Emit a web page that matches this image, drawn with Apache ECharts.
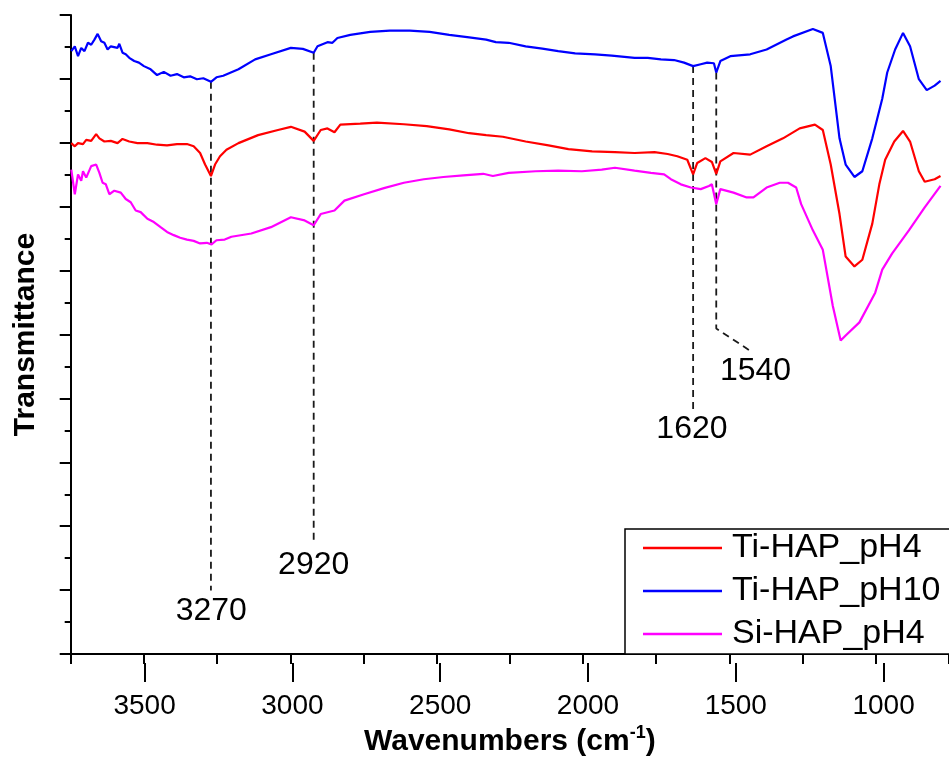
<!DOCTYPE html>
<html>
<head>
<meta charset="utf-8">
<script src="https://cdn.jsdelivr.net/npm/echarts@6/dist/echarts.min.js"></script>
<style>html,body{margin:0;padding:0;background:#fff;}#c{width:949px;height:762px;}</style>
</head>
<body>
<div id="c"></div>
<script>
// ---- data ----
const seriesNames = ['Ti-HAP_pH4', 'Ti-HAP_pH10', 'Si-HAP_pH4'];
const seriesColors = ['#ff0000', '#0000ff', '#ff00ff'];

const redW = [3748,3736,3725,3708,3697,3680,3663,3652,3635,3613,3590,3573,3550,3522,3488,3455,3421,3387,3353,3330,3308,3291,3271,3257,3240,3218,3177,3110,3042,2998,2951,2920,2896,2873,2849,2829,2761,2704,2612,2534,2457,2389,2331,2274,2196,2118,2050,1969,1891,1824,1756,1711,1678,1644,1624,1610,1582,1560,1545,1531,1486,1429,1373,1317,1260,1208,1181,1154,1124,1103,1073,1046,1012,988,968,937,907,883,853,833,799,779];
const redT = [15.99,15.89,15.99,15.96,16.09,16.06,16.27,16.14,16.04,16.06,15.99,16.12,16.04,15.99,15.99,15.94,15.92,15.96,15.96,15.89,15.68,15.32,14.96,15.32,15.58,15.78,15.99,16.24,16.40,16.50,16.35,16.06,16.40,16.45,16.33,16.57,16.60,16.63,16.58,16.52,16.42,16.30,16.24,16.19,16.04,15.92,15.80,15.73,15.71,15.68,15.71,15.65,15.58,15.47,15.01,15.37,15.52,15.40,15.03,15.42,15.68,15.63,15.89,16.14,16.45,16.57,16.40,15.32,13.77,12.44,12.13,12.34,13.47,14.70,15.47,16.04,16.37,16.04,15.11,14.78,14.86,14.96];

const blueW = [3748,3736,3725,3714,3703,3691,3680,3669,3658,3646,3635,3624,3613,3590,3584,3573,3562,3550,3533,3517,3500,3477,3455,3432,3409,3387,3364,3342,3319,3297,3271,3252,3229,3177,3120,3066,2998,2957,2920,2907,2873,2856,2839,2795,2727,2660,2592,2524,2457,2389,2331,2298,2254,2196,2139,2085,2027,1959,1902,1824,1779,1734,1689,1655,1624,1598,1576,1553,1545,1531,1497,1429,1373,1305,1283,1215,1181,1154,1124,1103,1073,1046,1012,978,961,934,907,883,853,826,799,779];
const blueT = [18.87,19.02,18.71,18.97,18.87,19.13,19.07,19.23,19.41,19.18,19.13,18.92,19.02,18.97,19.10,18.82,18.77,18.66,18.56,18.51,18.40,18.30,18.12,18.22,18.10,18.15,18.05,18.08,17.99,18.02,17.91,18.05,18.10,18.30,18.61,18.77,18.97,18.94,18.82,19.02,19.15,19.13,19.28,19.38,19.47,19.51,19.51,19.47,19.38,19.30,19.23,19.15,19.13,19.02,18.95,18.87,18.80,18.77,18.73,18.66,18.66,18.61,18.59,18.51,18.40,18.46,18.51,18.49,18.20,18.56,18.71,18.77,18.92,19.23,19.33,19.56,19.44,18.40,16.14,15.32,14.93,15.11,16.14,17.38,18.20,18.92,19.44,19.02,17.99,17.65,17.79,17.94];

const magW = [3748,3736,3725,3714,3708,3697,3680,3663,3652,3641,3630,3618,3601,3579,3562,3545,3528,3511,3488,3466,3443,3421,3398,3376,3353,3330,3308,3285,3269,3252,3224,3201,3133,3066,2998,2951,2920,2896,2849,2815,2748,2680,2612,2544,2477,2409,2341,2308,2254,2162,2085,2004,1936,1891,1824,1768,1723,1700,1666,1632,1598,1570,1560,1545,1531,1486,1441,1418,1373,1328,1300,1272,1255,1215,1181,1147,1120,1103,1056,1002,978,944,887,833,779];
const magT = [15.16,14.39,15.01,14.81,15.11,14.91,15.27,15.32,15.06,14.75,14.70,14.39,14.50,14.44,14.24,14.14,13.88,13.83,13.62,13.52,13.36,13.21,13.11,13.03,12.97,12.93,12.85,12.87,12.82,12.95,12.97,13.06,13.16,13.36,13.67,13.57,13.42,13.77,13.88,14.19,14.39,14.58,14.75,14.86,14.93,14.98,15.03,14.96,15.06,15.11,15.13,15.11,15.16,15.22,15.13,15.06,15.01,14.86,14.70,14.60,14.55,14.65,14.70,14.08,14.55,14.44,14.29,14.29,14.60,14.75,14.75,14.60,14.08,13.26,12.65,10.90,9.81,9.97,10.38,11.31,12.03,12.54,13.26,13.98,14.65];

// peak guide lines (dashed) and their labels
const guideW = [3271, 2920, 1624, 1545];
const guideTop = [17.91, 18.82, 18.40, 18.20];
const guideBottom = [1.99, 3.55, 7.59, 10.19];
const leaderEnd = [1421, 9.44];   // diagonal leader of the 1540 label
const labelText = ['3270', '2920', '1620', '1540'];
const labelW = [3270, 2920, 1628, 1411];
const labelT = [1.33, 2.79, 7.04, 8.84];

const xTickLabels = [1000, 1500, 2000, 2500, 3000, 3500];

// ---- layout ----
const FONT = 'Arial, "Liberation Sans", sans-serif';
const PX = 0.2956;      // px per cm-1
const LEFT = 70.7, TOP = 15, HEIGHT = 648;
const X_MAX = 3750, X_MIN = 750;
const MAJ_MIN = xTickLabels[0], MAJ_MAX = xTickLabels[xTickLabels.length - 1];

function zip(a, b) { return a.map((v, i) => [v, b[i]]); }

const curves = [zip(redW, redT), zip(blueW, blueT), zip(magW, magT)];

const series = curves.map((d, i) => ({
  name: seriesNames[i], type: 'line', xAxisIndex: 0, yAxisIndex: 0,
  data: d, showSymbol: false, symbol: 'none', smooth: false,
  lineStyle: { color: seriesColors[i], width: 2.2 }, itemStyle: { color: seriesColors[i] },
  z: 3, animation: false
}));

guideW.forEach((w, i) => {
  const pts = [[w, guideTop[i]], [w, guideBottom[i]]];
  if (labelText[i] === '1540') pts.push(leaderEnd);
  series.push({
    type: 'line', xAxisIndex: 0, yAxisIndex: 0, data: pts, symbol: 'none', silent: true,
    lineStyle: { color: '#1a1a1a', width: 1.8, type: [7, 5] }, z: 2, animation: false
  });
});

series.push({
  type: 'scatter', xAxisIndex: 0, yAxisIndex: 0, symbolSize: 0, silent: true, animation: false,
  itemStyle: { opacity: 1, color: '#000' },
  data: labelText.map((t, i) => ({ name: t, value: [labelW[i], labelT[i]] })),
  label: { show: true, position: 'inside', formatter: p => p.name, color: '#000', opacity: 1,
    fontSize: 32, fontFamily: FONT, textBorderWidth: 0 }
});

const chart = echarts.init(document.getElementById('c'), null, { renderer: 'canvas' });
chart.setOption({
  backgroundColor: '#fff',
  animation: false,
  grid: [
    { left: LEFT, top: TOP, width: (X_MAX - X_MIN) * PX, height: HEIGHT },
    { left: LEFT + (X_MAX - MAJ_MAX) * PX, top: TOP, width: (MAJ_MAX - MAJ_MIN) * PX, height: HEIGHT }
  ],
  xAxis: [
    {
      type: 'value', gridIndex: 0, inverse: true, min: X_MIN, max: X_MAX, interval: 250,
      axisLine: { show: true, onZero: false, lineStyle: { color: '#000', width: 2 } },
      axisTick: { show: true, length: 10, lineStyle: { color: '#000', width: 2 } },
      axisLabel: { show: false }, splitLine: { show: false },
      name: '{b|Wavenumbers (cm}{s|-1}{b|)}', nameLocation: 'middle', nameGap: 70,
      nameTextStyle: {
        rich: {
          b: { fontSize: 30, fontWeight: 'bold', fontFamily: FONT, color: '#000', lineHeight: 36 },
          s: { fontSize: 18, fontWeight: 'bold', fontFamily: FONT, color: '#000', verticalAlign: 'top', lineHeight: 20 }
        }
      }
    },
    {
      type: 'value', gridIndex: 1, inverse: true, min: MAJ_MIN, max: MAJ_MAX, interval: 500,
      axisLine: { show: false },
      axisTick: { show: true, length: 19, lineStyle: { color: '#000', width: 2 } },
      axisLabel: { show: true, fontSize: 28, fontFamily: FONT, color: '#000', margin: 29,
        formatter: v => (xTickLabels.indexOf(v) >= 0 ? String(v) : '') },
      splitLine: { show: false }
    }
  ],
  yAxis: [
    {
      type: 'value', gridIndex: 0, min: 0, max: 20, interval: 2,
      axisLine: { show: true, onZero: false, lineStyle: { color: '#000', width: 2 } },
      axisTick: { show: true, length: 11, lineStyle: { color: '#000', width: 2 } },
      minorTick: { show: true, splitNumber: 2, length: 6, lineStyle: { color: '#000', width: 2 } },
      axisLabel: { show: false }, splitLine: { show: false }, minorSplitLine: { show: false },
      name: 'Transmittance', nameLocation: 'middle', nameRotate: 90, nameGap: 30,
      nameTextStyle: { fontSize: 30, fontWeight: 'bold', fontFamily: FONT, color: '#000' }
    },
    { type: 'value', gridIndex: 1, min: 0, max: 20, show: false }
  ],
  legend: {
    orient: 'vertical', left: 625, top: 529,
    data: seriesNames, icon: 'rect', itemWidth: 79, itemHeight: 2.5, itemGap: 9,
    textStyle: { fontSize: 34, fontFamily: FONT, color: '#000', padding: [0, 0, 0, 5] },
    borderColor: '#000', borderWidth: 1.5, borderRadius: 0, backgroundColor: '#fff',
    padding: [2, 30, 3, 18], selectedMode: false
  },
  series: series
});
</script>
</body>
</html>
